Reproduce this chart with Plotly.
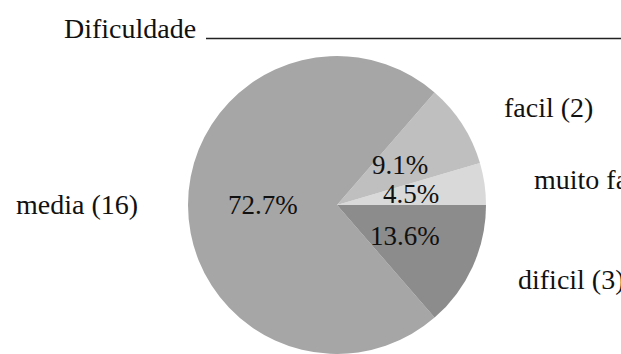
import math
import plotly.graph_objects as go

# ---- data ----
title_text = "Dificuldade"
categories = ["muito facil", "facil", "media", "dificil"]
counts = [1, 2, 16, 3]
colors = ["#d9d9d9", "#bfbfbf", "#a6a6a6", "#8c8c8c"]

W, H = 621, 354
CX, CY, R = 337, 205, 149  # pie centre / radius in pixels
FONT = "Liberation Serif"

total = sum(counts)
fig = go.Figure()
fig.add_trace(go.Pie(
    labels=categories,
    values=counts,
    sort=False,
    direction="counterclockwise",
    rotation=90 - 360 * counts[0] / total,
    marker=dict(colors=colors, line=dict(width=0)),
    textinfo="none",
    hoverinfo="label+value+percent",
    showlegend=False,
    domain=dict(x=[(CX - R) / W, (CX + R) / W], y=[0, 2 * R / H]),
))

def px2paper(x, y):
    return x / W, 1 - y / H

annotations = []
cum = 0
for cat, v in zip(categories, counts):
    mid = (cum + v / 2) / total * 2 * math.pi
    cum += v
    c, s = math.cos(mid), math.sin(mid)
    # percentage label inside
    px, py = px2paper(CX + 0.5 * R * c, CY - 0.5 * R * s)
    annotations.append(dict(x=px, y=py, xref="paper", yref="paper",
                            text=f"{100 * v / total:.1f}%", showarrow=False,
                            xanchor="center", yanchor="middle",
                            font=dict(family=FONT, size=27, color="#111")))
    # category label outside
    lx, ly = px2paper(CX + 1.32 * R * c, CY - 1.21 * R * s)
    annotations.append(dict(x=lx, y=ly, xref="paper", yref="paper",
                            text=f"{cat} ({v})", showarrow=False,
                            xanchor="left" if c >= 0 else "right", yanchor="middle",
                            font=dict(family=FONT, size=28, color="#111")))

tx, ty = px2paper(198, 28)
annotations.append(dict(x=tx, y=ty, xref="paper", yref="paper", text=title_text,
                        showarrow=False, xanchor="right", yanchor="middle",
                        font=dict(family=FONT, size=28, color="#111")))

fig.update_layout(
    width=W, height=H,
    margin=dict(l=0, r=0, t=0, b=0),
    paper_bgcolor="white",
    plot_bgcolor="white",
    annotations=annotations,
    shapes=[dict(type="line", xref="paper", yref="paper",
                 x0=206 / W, x1=1.0, y0=1 - 38.5 / H, y1=1 - 38.5 / H,
                 line=dict(color="#222", width=1.4))],
)

fig.write_html("out.html",
               config={"displayModeBar": False},
               post_script="document.body.style.margin='0';document.body.style.overflow='hidden';")
